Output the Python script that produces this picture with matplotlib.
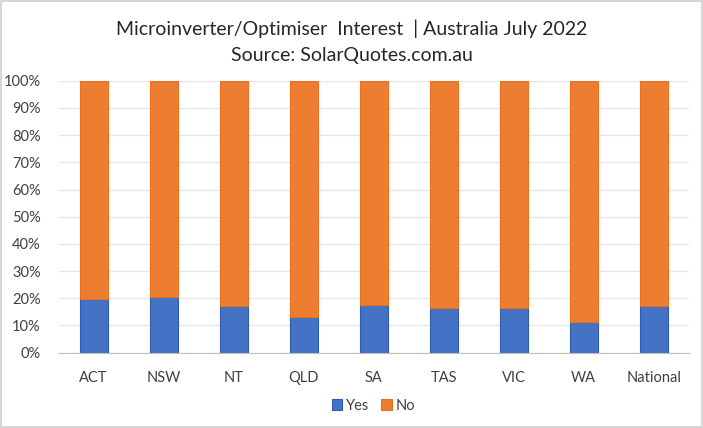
import matplotlib
matplotlib.use("Agg")
import matplotlib.pyplot as plt
from matplotlib.ticker import PercentFormatter

# data
regions = ["ACT", "NSW", "NT", "QLD", "SA", "TAS", "VIC", "WA", "National"]
yes_pct = [19.6, 20.4, 17.0, 13.3, 17.5, 16.6, 16.6, 11.1, 17.0]
no_pct = [100 - v for v in yes_pct]

blue = "#4472C4"
orange = "#ED7D31"

plt.rcParams["font.family"] = ["Lato", "DejaVu Sans"]

fig = plt.figure(figsize=(7.03, 4.28), dpi=100)
ax = fig.add_axes([0.0835, 0.176, 0.8962, 0.6354])

x = range(len(regions))
ax.bar(x, yes_pct, width=0.4, color=blue, edgecolor="#2F5CB0", linewidth=0.8,
       label="Yes", zorder=3)
ax.bar(x, no_pct, width=0.4, bottom=yes_pct, color=orange, edgecolor="#E8701F",
       linewidth=0.8, label="No", zorder=3)

ax.set_xlim(-0.5, len(regions) - 0.5)
ax.set_ylim(0, 100)
ax.set_yticks(range(0, 101, 10))
ax.yaxis.set_major_formatter(PercentFormatter(decimals=0))
ax.set_xticks(list(x))
ax.set_xticklabels(regions)
ax.tick_params(axis="both", length=0, labelsize=10.5, colors="#404040")
ax.tick_params(axis="x", pad=13)
ax.tick_params(axis="y", pad=13)
ax.grid(axis="y", color="#E6E6E6", linewidth=1, zorder=0)
for s in ["top", "right", "left"]:
    ax.spines[s].set_visible(False)
ax.spines["bottom"].set_color("#BFBFBF")
ax.spines["bottom"].set_zorder(4)

fig.text(0.5, 0.932, "Microinverter/Optimiser  Interest  | Australia July 2022",
         ha="center", va="center", fontsize=14, color="#262626")
fig.text(0.5, 0.871, "Source: SolarQuotes.com.au", ha="center", va="center",
         fontsize=14, color="#262626")

ax.legend(loc="center", bbox_to_anchor=(0.5, -0.195), ncol=2, frameon=False,
          fontsize=10.5, handlelength=0.7, handleheight=0.7, columnspacing=0.8,
          handletextpad=0.3, labelcolor="#404040")

# light border around the image
fig.patches.append(plt.Rectangle((0.001, 0.002), 0.997, 0.996, transform=fig.transFigure,
                                 fill=False, edgecolor="#D0D0D0", linewidth=1.2))

fig.savefig("out.png", dpi=100)
